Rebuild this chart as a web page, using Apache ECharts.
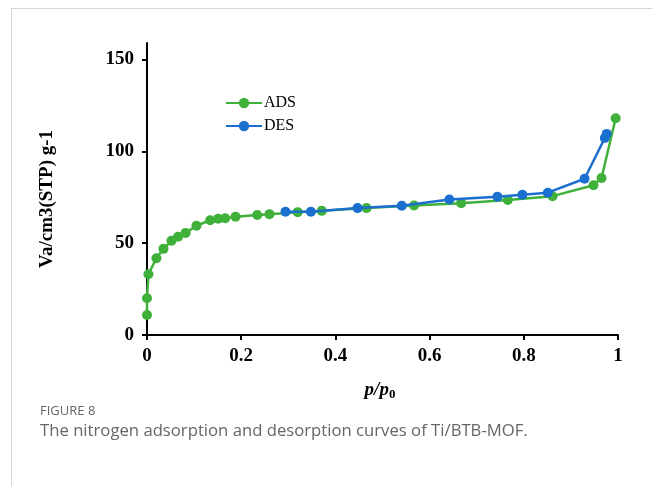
<!DOCTYPE html>
<html><head><meta charset="utf-8">
<script src="https://cdn.jsdelivr.net/npm/echarts@6/dist/echarts.min.js"></script>
<style>html,body{margin:0;padding:0;background:#fff}#c{width:652px;height:486px}</style>
</head><body><div id="c"></div>
<script>
const adsX = [0, 0, 0.003, 0.02, 0.035, 0.052, 0.066, 0.082, 0.105, 0.134, 0.151, 0.166, 0.188, 0.234, 0.26, 0.32, 0.371, 0.466, 0.567, 0.667, 0.766, 0.861, 0.948, 0.965, 0.995];
const adsY = [10.9, 20, 33.1, 41.8, 46.9, 51.3, 53.5, 55.6, 59.5, 62.5, 63.3, 63.6, 64.4, 65.3, 65.8, 66.9, 67.6, 69.1, 70.5, 71.8, 73.5, 75.6, 81.5, 85.5, 118];
const desX = [0.294, 0.348, 0.447, 0.541, 0.642, 0.744, 0.797, 0.851, 0.929, 0.972, 0.976];
const desY = [67.1, 67.1, 69.1, 70.4, 73.8, 75.3, 76.4, 77.5, 85.1, 107.3, 109.5];
const yTicks = [0, 50, 100, 150];
const xTicks = [0, 0.2, 0.4, 0.6, 0.8, 1];
const seriesNames = ['ADS', 'DES'];
const colors = ['#3fb13a', '#1a6fcf'];

const pair = (xs, ys) => xs.map((x, i) => [x, ys[i]]);
const chart = echarts.init(document.getElementById('c'), null, {renderer: 'canvas'});
const serif = '"Liberation Serif","Times New Roman",serif';
chart.setOption({
  animation: false,
  backgroundColor: '#fff',
  grid: {left: 147, right: 34, top: 43, bottom: 151, containLabel: false},
  legend: {
    orient: 'vertical', left: 220, top: 90, itemGap: 7,
    itemWidth: 36, itemHeight: 13,
    textStyle: {fontFamily: serif, fontSize: 16, color: '#000', padding: [0,0,0,-3]},
    data: seriesNames
  },
  xAxis: {
    type: 'value', min: 0, max: 1, interval: 0.2,
    axisLine: {lineStyle: {color: '#000', width: 2}},
    axisTick: {show: true, length: 5, lineStyle: {color: '#000', width: 2}, customValues: xTicks},
    axisLabel: {customValues: xTicks, fontFamily: serif, fontWeight: 'bold', fontSize: 19, color: '#000', margin: 12,
      formatter: v => String(+v.toFixed(1))},
    splitLine: {show: false}
  },
  yAxis: {
    type: 'value', min: 0, max: 159,
    axisLine: {show: true, lineStyle: {color: '#000', width: 2}},
    axisTick: {show: true, length: 5, lineStyle: {color: '#000', width: 2}, customValues: yTicks},
    axisLabel: {customValues: yTicks, fontFamily: serif, fontWeight: 'bold', fontSize: 19, color: '#000', margin: 13},
    splitLine: {show: false}
  },
  series: [
    {name: seriesNames[0], type: 'line', data: pair(adsX, adsY), symbol: 'circle', symbolSize: 10,
     itemStyle: {color: colors[0]}, lineStyle: {color: colors[0], width: 2.5}, z: 2},
    {name: seriesNames[1], type: 'line', data: pair(desX, desY), symbol: 'circle', symbolSize: 10,
     itemStyle: {color: colors[1]}, lineStyle: {color: colors[1], width: 2.5}, z: 3}
  ],
  graphic: [
    {type: 'line', shape: {x1: 11, y1: 8.5, x2: 652, y2: 8.5}, style: {stroke: '#d6d6d6', lineWidth: 1}},
    {type: 'line', shape: {x1: 11.5, y1: 8, x2: 11.5, y2: 486}, style: {stroke: '#d6d6d6', lineWidth: 1}},
    {type: 'text', x: 47, y: 199, rotation: Math.PI / 2,
     style: {text: 'Va/cm3(STP) g-1', font: 'bold 19px ' + serif, fill: '#000', align: 'center', verticalAlign: 'middle'}},
    {type: 'text', x: 380, y: 390,
     style: {text: '{i|p/p}{s|0}', align: 'center', verticalAlign: 'middle',
       rich: {i: {font: 'italic bold 19px ' + serif, fill: '#000'},
              s: {font: 'bold 13px ' + serif, fill: '#000', verticalAlign: 'bottom', padding: [9,0,0,0]}}}},
    {type: 'text', x: 40, y: 411,
     style: {text: 'FIGURE 8', font: '13px "Open Sans", sans-serif', fill: '#666', verticalAlign: 'middle'}},
    {type: 'text', x: 40, y: 431,
     style: {text: 'The nitrogen adsorption and desorption curves of Ti/BTB-MOF.', font: '16.7px "Open Sans", sans-serif', fill: '#666', verticalAlign: 'middle'}}
  ]
});
</script></body></html>
